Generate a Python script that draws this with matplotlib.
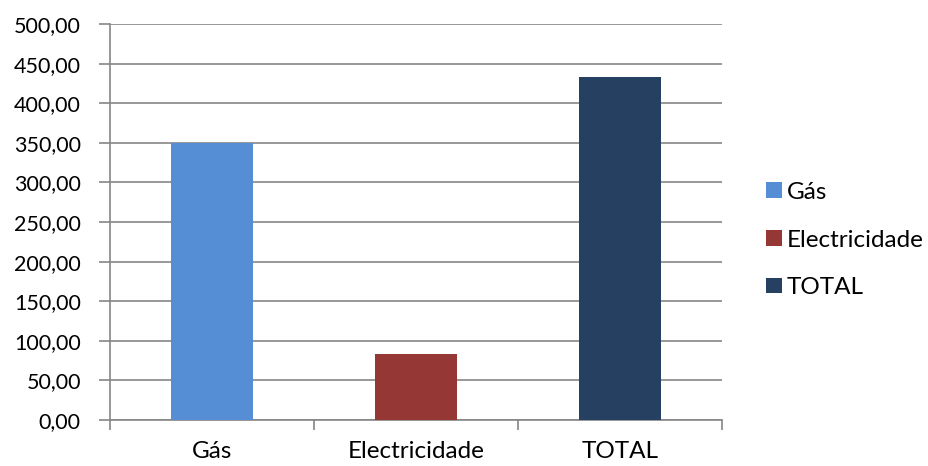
import matplotlib.pyplot as plt
from matplotlib.ticker import FuncFormatter, FixedLocator

plt.rcParams['font.family'] = ['Lato', 'DejaVu Sans']

# dados
categorias = ['Gás', 'Electricidade', 'TOTAL']
valores = [350.0, 83.0, 433.0]
cores = ['#558ED5', '#953735', '#254061']

fig = plt.figure(figsize=(9.29, 4.66), dpi=100)
ax = fig.add_axes([110 / 929, 46 / 466, 612 / 929, 396 / 466])

pos = list(range(len(categorias)))
barras = ax.bar(pos, valores, width=0.4, color=cores, zorder=3, label=categorias)

ax.set_xlim(-0.5, len(categorias) - 0.5)
ax.set_ylim(0, 500)
ax.set_yticks([i * 50 for i in range(11)])
ax.yaxis.set_major_formatter(FuncFormatter(lambda v, p: f'{v:.2f}'.replace('.', ',')))

# grelha horizontal
ax.grid(axis='y', color='#868686', linewidth=1.2, zorder=0)
for lado in ['top', 'right']:
    ax.spines[lado].set_visible(False)
ax.spines['left'].set_color('#868686')
ax.spines['bottom'].set_color('#868686')
ax.spines['left'].set_linewidth(1.2)
ax.spines['bottom'].set_linewidth(1.2)

# etiquetas do eixo x no centro, marcas nos limites das categorias
ax.set_xticks(pos)
ax.set_xticklabels(categorias)
ax.tick_params(axis='x', length=0, labelsize=17.5, pad=15)
ax.xaxis.set_minor_locator(FixedLocator([-0.5, 0.5, 1.5, 2.5]))
ax.tick_params(axis='x', which='minor', length=7, color='#868686', width=1.2)
ax.tick_params(axis='y', length=8, color='#868686', width=1.2, labelsize=15.5, pad=13)

leg = fig.legend(barras, categorias, loc='center left', bbox_to_anchor=(756 / 929, 1 - 240 / 466),
                 frameon=False, fontsize=17.5, handlelength=0.65, handleheight=0.6,
                 handletextpad=0.2, labelspacing=1.1, borderaxespad=0)

fig.savefig('out.png', dpi=100)
